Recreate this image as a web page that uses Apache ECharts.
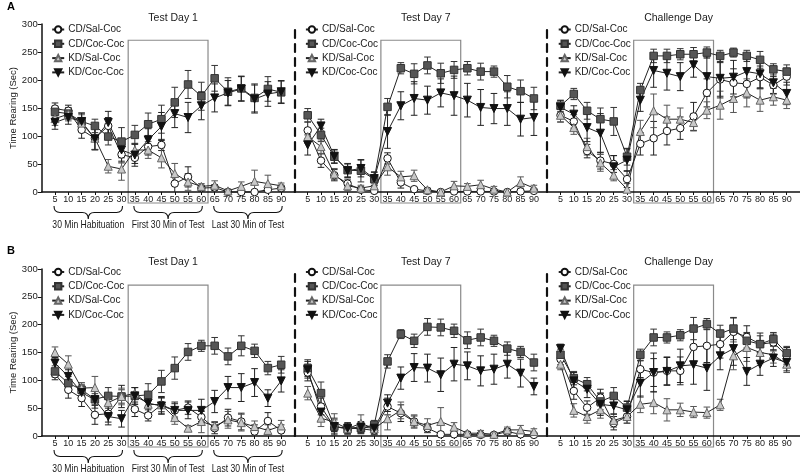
<!DOCTYPE html>
<html><head><meta charset="utf-8">
<script src="https://cdn.jsdelivr.net/npm/echarts@6/dist/echarts.min.js"></script>
<style>html,body{margin:0;padding:0;background:#fff}#c{width:800px;height:473px}</style>
</head><body><div id="c"></div>
<script>
// ---------- data ----------
const minutes = [5,10,15,20,25,30,35,40,45,50,55,60,65,70,75,80,85,90];
const yTicks = [0,50,100,150,200,250,300];
const seriesNames = ['CD/Sal-Coc','CD/Coc-Coc','KD/Sal-Coc','KD/Coc-Coc'];
const panelTitles = ['Test Day 1','Test Day 7','Challenge Day'];
const rowLetters = ['A','B'];
const phaseLabels = ['30 Min Habituation','First 30 Min of Test','Last 30 Min of Test'];
const phaseRanges = [[5,30],[35,60],[65,90]];
const testWindow = [32.5, 62.5, 271];

// Row A – Test Day 1
const a1CdSal = [149,145,111,96,118,67,61,81,84,15,27,7,8,0,0,0,4,7];
const a1CdCoc = [143,140,126,118,99,90,102,121,130,160,192,171,203,179,185,168,184,178];
const a1KdSal = [131,139,123,96,46,41,75,75,61,33,18,10,12,2,10,19,15,11];
const a1KdCoc = [124,133,126,95,124,75,66,93,117,140,133,154,168,177,184,166,175,179];
const a1CdSalErr = [10,10,15,20,15,15,10,15,10,15,18,5,5,2,2,2,5,5];
const a1CdCocErr = [10,10,15,12,15,25,17,20,25,27,25,25,23,25,22,25,22,20];
const a1KdSalErr = [12,12,15,20,12,20,12,15,18,18,15,5,8,3,8,20,15,5];
const a1KdCocErr = [12,12,15,20,20,20,20,20,25,25,27,25,25,22,22,25,22,20];
// Row A – Test Day 7
const a2CdSal = [110,56,30,15,4,2,60,17,5,2,0,1,1,1,1,0,1,2];
const a2CdCoc = [137,102,63,39,38,23,152,221,211,226,212,218,221,215,215,188,180,167];
const a2KdSal = [99,81,32,11,7,11,45,27,29,4,0,11,10,13,5,0,17,7];
const a2KdCoc = [84,118,64,38,42,24,108,154,167,164,177,172,164,151,149,149,130,133];
const a2CdSalErr = [15,12,10,8,5,3,10,10,3,2,2,2,2,2,2,2,2,2];
const a2CdCocErr = [12,12,12,12,20,12,15,10,18,15,18,15,12,15,10,20,20,20];
const a2KdSalErr = [12,12,10,8,5,5,15,10,10,3,2,8,5,8,5,2,10,5];
const a2KdCocErr = [18,12,12,12,15,12,30,25,30,25,25,35,30,32,27,30,30,32];
// Row A – Challenge Day
const a3CdSal = [137,126,73,56,50,23,86,96,109,114,135,177,201,195,193,205,191,206];
const a3CdCoc = [154,175,145,130,126,63,182,243,243,246,246,249,243,249,243,236,219,215];
const a3KdSal = [137,115,81,52,30,5,108,145,130,130,124,146,155,167,177,164,170,164];
const a3KdCoc = [151,139,115,105,45,57,164,217,212,206,227,206,203,205,215,211,195,176];
const a3CdSalErr = [12,12,12,15,15,15,20,30,25,20,25,25,30,25,25,20,15,15];
const a3CdCocErr = [10,10,15,20,25,15,12,12,12,10,12,10,10,8,10,15,10,12];
const a3KdSalErr = [12,12,15,15,10,10,20,30,25,20,15,15,25,25,25,20,15,15];
const a3KdCocErr = [12,15,25,35,20,20,20,30,30,25,22,35,35,30,25,25,20,20];
// Row B – Test Day 1
const b1CdSal = [111,83,68,38,40,71,48,37,56,46,51,34,14,33,26,8,27,10];
const b1CdCoc = [116,95,83,66,72,71,72,74,98,122,151,162,162,143,162,153,122,128];
const b1KdSal = [150,129,86,87,60,71,77,57,56,33,14,26,18,29,24,17,10,18];
const b1KdCoc = [131,107,78,65,35,31,72,59,54,46,46,46,62,87,87,96,68,99];
const b1CdSalErr = [10,15,15,17,15,20,13,10,15,12,12,10,10,15,15,12,15,10];
const b1CdCocErr = [10,12,10,10,15,12,15,20,20,20,15,10,15,15,18,12,12,15];
const b1KdSalErr = [10,15,10,20,15,15,10,15,12,12,5,20,8,15,15,10,10,10];
const b1KdCocErr = [10,12,12,15,15,15,15,20,15,15,15,20,20,20,25,25,15,20];
// Row B – Test Day 7
const b2CdSal = [114,53,16,14,13,10,53,41,26,14,3,3,3,2,2,8,3,2];
const b2CdCoc = [122,77,17,13,14,20,134,183,171,196,195,189,172,177,171,157,151,132];
const b2KdSal = [77,32,25,13,23,13,31,46,26,19,26,16,5,5,3,11,11,8];
const b2KdCoc = [119,43,17,14,16,14,59,104,123,122,110,129,126,117,120,129,113,89];
const b2CdSalErr = [15,15,8,8,8,8,15,15,10,8,3,3,3,3,3,5,3,3];
const b2CdCocErr = [15,20,12,8,10,8,12,8,12,15,15,12,15,15,10,12,10,15];
const b2KdSalErr = [12,15,15,10,15,10,20,15,12,12,25,8,3,5,3,5,8,5];
const b2KdCocErr = [15,15,15,10,10,10,15,20,25,25,30,30,25,27,27,25,25,15];
// Row B – Challenge Day
const b3CdSal = [138,81,51,69,23,35,120,114,117,117,160,162,165,187,178,165,168,144];
const b3CdCoc = [146,104,93,62,72,51,146,177,177,181,193,201,184,193,171,165,174,149];
const b3KdSal = [129,46,35,47,28,35,57,60,47,47,43,42,56,144,159,150,146,129];
const b3KdCoc = [157,99,84,57,54,47,95,114,116,126,128,122,144,157,116,129,140,132];
const b3CdSalErr = [10,15,12,15,12,12,15,25,25,25,30,30,25,25,20,20,15,15];
const b3CdCocErr = [10,12,12,15,15,12,10,15,10,10,20,10,15,20,15,15,12,12];
const b3KdSalErr = [10,12,12,15,12,12,15,20,20,12,10,10,10,25,25,20,15,15];
const b3KdCocErr = [8,15,15,20,15,15,25,35,25,30,35,40,25,30,25,20,15,15];

const panelValues = [
  [a1CdSal,a1CdCoc,a1KdSal,a1KdCoc],[a2CdSal,a2CdCoc,a2KdSal,a2KdCoc],[a3CdSal,a3CdCoc,a3KdSal,a3KdCoc],
  [b1CdSal,b1CdCoc,b1KdSal,b1KdCoc],[b2CdSal,b2CdCoc,b2KdSal,b2KdCoc],[b3CdSal,b3CdCoc,b3KdSal,b3KdCoc]
];
const panelErrors = [
  [a1CdSalErr,a1CdCocErr,a1KdSalErr,a1KdCocErr],[a2CdSalErr,a2CdCocErr,a2KdSalErr,a2KdCocErr],[a3CdSalErr,a3CdCocErr,a3KdSalErr,a3KdCocErr],
  [b1CdSalErr,b1CdCocErr,b1KdSalErr,b1KdCocErr],[b2CdSalErr,b2CdCocErr,b2KdSalErr,b2KdCocErr],[b3CdSalErr,b3CdCocErr,b3KdSalErr,b3KdCocErr]
];

// ---------- layout & style ----------
const FONT = "'Liberation Sans',Arial,Helvetica,sans-serif";
const TXT = '#1a1a1a';
const colLeft = [41.7, 294.4, 547.2];
const colWidth = 252.8;
const rowTop = [24, 269];
const rowHeight = [168, 167];
const markerStyles = [
  {symbol:'circle', rotate:0, fill:'#ffffff', border:'#111111', size:7.5},
  {symbol:'rect', rotate:0, fill:'#555555', border:'#333333', size:7.5},
  {symbol:'triangle', rotate:0, fill:'#c8c8c8', border:'#666666', size:8},
  {symbol:'triangle', rotate:180, fill:'#111111', border:'#111111', size:8}
];
const errColors = ['#222','#333','#555','#222'];

const grids = [], xAxes = [], yAxes = [], series = [], legends = [], titles = [];

for (let p = 0; p < 6; p++) {
  const row = Math.floor(p / 3), col = p % 3;
  grids.push({left: colLeft[col], top: rowTop[row], width: colWidth, height: rowHeight[row], containLabel: false});
  xAxes.push({
    type:'value', gridIndex:p, min:0, max:95,
    axisLine:{show:true, onZero:false, lineStyle:{color:'#111', width:1.5}},
    axisTick:{show:true, length:3, customValues:minutes, lineStyle:{color:'#111'}},
    axisLabel:{customValues:minutes, fontSize:9, color:TXT, margin:3, fontFamily:FONT},
    splitLine:{show:false}
  });
  const first = col === 0;
  yAxes.push({
    type:'value', gridIndex:p, min:0, max:300, interval:50,
    name: first ? 'Time Rearing (Sec)' : '',
    nameLocation:'middle', nameGap:17,
    nameTextStyle:{fontSize:9.5, color:TXT, fontFamily:FONT},
    axisLine:{show:true, lineStyle: first ? {color:'#111', width:1.5} : {color:'#111', width:2.2, type:[8,6]}},
    axisTick:{show:first, length:4, lineStyle:{color:'#111'}},
    axisLabel:{show:first, fontSize:9.5, color:TXT, margin:4, fontFamily:FONT},
    splitLine:{show:false}
  });
  titles.push({text: panelTitles[col], left: colLeft[col] + colWidth/2, textAlign:'center',
    top: rowTop[row] - (row === 0 ? 16 : 17), textStyle:{fontSize:10.5, fontWeight:'normal', color:TXT, fontFamily:FONT}});
  legends.push({
    data: seriesNames, orient:'vertical', left: colLeft[col] + (col === 0 ? 9.5 : 10.5),
    top: rowTop[row] + (row === 0 ? -0.5 : -3), itemWidth:12, itemHeight:8, itemGap:2.3, padding:0,
    symbolRotate:'inherit',
    textStyle:{fontSize:10, color:TXT, fontFamily:FONT, lineHeight:12, padding:[0,0,0,-1]},
    selectedMode:false
  });

  // test window box
  series.push({
    type:'custom', xAxisIndex:p, yAxisIndex:p, silent:true, z:0, clip:false,
    data:[[testWindow[0], testWindow[1], testWindow[2]]],
    encode:{x:[0,1], y:2},
    renderItem:(params, api) => {
      const a = api.coord([api.value(0), api.value(2)]);
      const b = api.coord([api.value(1), 0]);
      return {type:'rect', shape:{x:a[0], y:a[1], width:b[0]-a[0], height:b[1]-a[1]+11},
        style:{fill:'none', stroke:'#8a8a8a', lineWidth:1.2}};
    }
  });

  // error bars and lines
  for (let s = 0; s < 4; s++) {
    const vals = panelValues[p][s], errs = panelErrors[p][s];
    const ec = errColors[s];
    series.push({
      type:'custom', xAxisIndex:p, yAxisIndex:p, silent:true, z:1, clip:false,
      data: minutes.map((m,k) => [m, vals[k] - errs[k], vals[k] + errs[k]]),
      encode:{x:0, y:[1,2]},
      renderItem:(params, api) => {
        const x = api.value(0);
        const lo = Math.max(0, api.value(1));
        const pl = api.coord([x, lo]), ph = api.coord([x, api.value(2)]);
        const w = 3.3;
        const kids = [
          {type:'line', shape:{x1:pl[0], y1:pl[1], x2:ph[0], y2:ph[1]}, style:{stroke:ec, lineWidth:1}},
          {type:'line', shape:{x1:ph[0]-w, y1:ph[1], x2:ph[0]+w, y2:ph[1]}, style:{stroke:ec, lineWidth:1}}
        ];
        if (api.value(1) > 0) kids.push({type:'line', shape:{x1:pl[0]-w, y1:pl[1], x2:pl[0]+w, y2:pl[1]}, style:{stroke:ec, lineWidth:1}});
        return {type:'group', children:kids};
      }
    });
  }
  for (let s = 0; s < 4; s++) {
    const ms = markerStyles[s];
    series.push({
      type:'line', name:seriesNames[s], xAxisIndex:p, yAxisIndex:p, z:3,
      data: minutes.map((m,k) => [m, panelValues[p][s][k]]),
      symbol: ms.symbol, symbolSize: ms.size, symbolRotate: ms.rotate, showAllSymbol:true,
      clip:false,
      lineStyle:{color:'#222', width:1},
      itemStyle:{color:ms.fill, borderColor:ms.border, borderWidth:1},
      emphasis:{disabled:true}
    });
  }

  // phase braces under the first panel of each row
  if (col === 0) {
    series.push({
      type:'custom', xAxisIndex:p, yAxisIndex:p, silent:true, z:2, clip:false,
      data: phaseRanges.map(r => [r[0], r[1]]),
      encode:{x:[0,1]},
      renderItem:(params, api) => {
        const a = api.coord([api.value(0), 0]), b = api.coord([api.value(1), 0]);
        const x1 = a[0] - 1, x2 = b[0] + 1, xm = (x1 + x2) / 2, y0 = a[1];
        const t = y0 + 14, m = y0 + 20.5, bt = y0 + 27, r = 6;
        const d = `M${x1} ${t} Q${x1} ${m} ${x1+r} ${m} L${xm-r} ${m} Q${xm} ${m} ${xm} ${bt} Q${xm} ${m} ${xm+r} ${m} L${x2-r} ${m} Q${x2} ${m} ${x2} ${t}`;
        return {type:'group', children:[
          {type:'path', shape:{pathData:d}, style:{fill:'none', stroke:'#111', lineWidth:1.1}},
          {type:'text', x:xm, y:y0 + 33.5, scaleX:0.82,
            style:{text:phaseLabels[params.dataIndex], x:0, y:0, align:'center', verticalAlign:'middle',
            fontSize:10.5, fill:TXT, fontFamily:FONT}}
        ]};
      }
    });
  }
}
titles.push({text:rowLetters[0], left:2, top:-4, textStyle:{fontSize:11, fontWeight:'bold', color:'#000', fontFamily:FONT}});
titles.push({text:rowLetters[1], left:2, top:240, textStyle:{fontSize:11, fontWeight:'bold', color:'#000', fontFamily:FONT}});

const chart = echarts.init(document.getElementById('c'), null, {renderer:'canvas'});
chart.setOption({
  animation:false,
  backgroundColor:'#ffffff',
  textStyle:{fontFamily:FONT},
  title: titles, legend: legends, grid: grids, xAxis: xAxes, yAxis: yAxes, series: series
});
</script></body></html>
